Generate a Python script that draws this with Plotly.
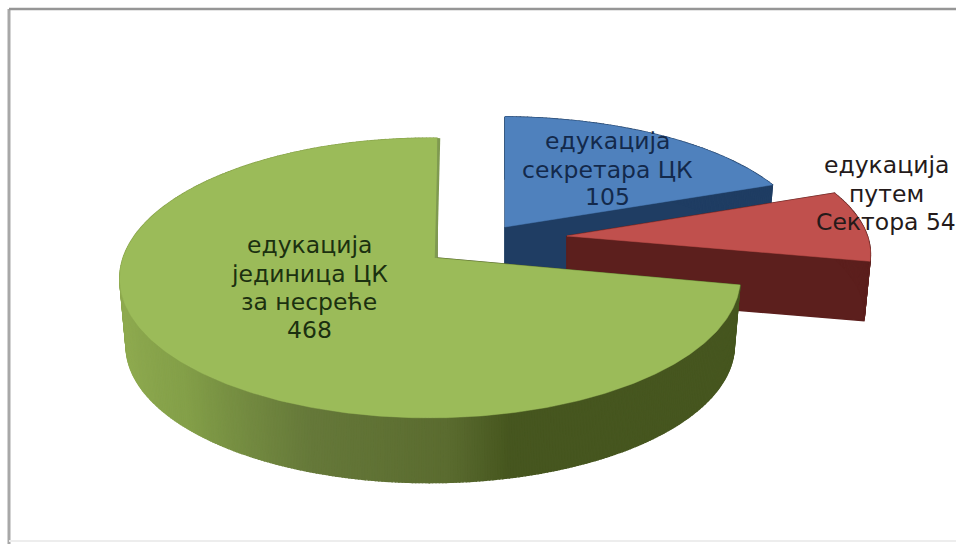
import numpy as np
import plotly.graph_objects as go

# ---- data ----
categories = ["едукација<br>секретара ЦК", "едукација<br>путем<br>Сектора", "едукација<br>јединица ЦК<br>за несреће"]
values = [105, 54, 468]

# ---- drawing style / 3D camera ----
W, H = 956, 544
TOP = ["#4F81BD", "#C0504D", "#9BBB59"]
FACE = ["#1F3D63", "#5C1F1D", "#4A5A22"]
WALL_STOPS = [
    [(0, "#1F3D63"), (360, "#1F3D63")],
    [(0, "#5C1F1D"), (360, "#5C1F1D")],
    [(90, "#46561F"), (166, "#47571F"), (178, "#5B6C30"), (205, "#66793A"), (235, "#84A049"), (262, "#8FAB50"), (290, "#86A04A"), (360, "#86A04A")],
]
APEX = [(505, 227), (567, 236), (437, 258)]
B = [126, 128, 137]
DROP = [60, 60, 68]
A, K, M, SHRINK, WARP = 307.0, 1 / 7, 0.022, 0.98, 0.175
TEXT_COL = ["#13294B", "#241A1A", "#1B3010"]
TEXT_X = [607, 886, 309]
TEXT_Y = [[141, 170, 197], [165, 194, 222], [245, 274, 302, 330]]


def offs(deg, i):
    t = np.radians(deg)
    t = t + WARP * np.sin(t)
    u, v = np.sin(t), -np.cos(t)
    d = 1 - K * v + M * u
    return A * u / d, B[i] * v / d


def hex_rgb(h):
    return np.array([int(h[j:j + 2], 16) for j in (1, 3, 5)], dtype=float)


def wall_col(i, deg):
    st = WALL_STOPS[i]
    xs = [s[0] for s in st]
    cs = np.array([hex_rgb(s[1]) for s in st])
    c = [np.interp(deg, xs, cs[:, j]) for j in range(3)]
    return "rgb(%d,%d,%d)" % tuple(c)


def poly(xs, ys, color):
    return go.Scatter(x=list(xs), y=list(ys), mode="lines", fill="toself", fillcolor=color,
                      line=dict(color=color, width=1.4), hoverinfo="skip", showlegend=False)


fig = go.Figure()
total = sum(values)
start = 0.0
for i, val in enumerate(values):
    end = start + 360 * val / total
    ax, ay = APEX[i]
    degs = np.linspace(start, end, max(12, int((end - start) * 1.5)))
    ox, oy = offs(degs, i)
    tx, ty = ax + ox, ay + oy
    bx, by = ax + SHRINK * ox, ay + DROP[i] + SHRINK * oy
    # cut faces at both ends of the slice
    fig.add_trace(poly([ax, tx[0], bx[0], ax, ax], [ay, ty[0], by[0], ay + DROP[i], ay], FACE[i]))
    fig.add_trace(poly([ax, tx[-1], bx[-1], ax, ax], [ay, ty[-1], by[-1], ay + DROP[i], ay], FACE[i]))
    # outer wall, back to front
    order = np.argsort(by[:-1])
    for j in order:
        fig.add_trace(poly([tx[j], tx[j + 1], bx[j + 1], bx[j], tx[j]],
                           [ty[j], ty[j + 1], by[j + 1], by[j], ty[j]],
                           wall_col(i, (degs[j] + degs[j + 1]) / 2)))
    # top surface
    fig.add_trace(go.Scatter(x=[ax, *tx, ax], y=[ay, *ty, ay], mode="lines", fill="toself", fillcolor=TOP[i],
                             line=dict(color=TOP[i], width=0.5), hoverinfo="skip", showlegend=False))
    start = end

# thin shaded edge on the green slice's straight back edge
gx, gy = offs(np.array([360.0]), 2)
fig.add_trace(go.Scatter(x=[APEX[2][0] - 1, APEX[2][0] + gx[0] + 2], y=[APEX[2][1], APEX[2][1] + gy[0]],
                         mode="lines", line=dict(color="#7F9A50", width=2.5), hoverinfo="skip", showlegend=False))

labels = [f"{categories[0]}<br>{values[0]}", f"{categories[1]} {values[1]}", f"{categories[2]}<br>{values[2]}"]
for i, lab in enumerate(labels):
    for line, y in zip(lab.split("<br>"), TEXT_Y[i]):
        fig.add_annotation(x=TEXT_X[i], y=y, xref="x", yref="y", text=line, showarrow=False,
                           align="center", font=dict(family="DejaVu Sans", size=23.5, color=TEXT_COL[i]))

shapes = [
    dict(type="line", xref="x", yref="y", x0=9, x1=9, y0=9, y1=544, line=dict(color="#A8A8A8", width=3)),
    dict(type="line", xref="x", yref="y", x0=9, x1=956, y0=9, y1=9, line=dict(color="#969696", width=2.5)),
    dict(type="line", xref="x", yref="y", x0=9, x1=956, y0=541, y1=541, line=dict(color="#EDEDED", width=2)),
]
fig.update_layout(
    width=W, height=H, margin=dict(l=0, r=0, t=0, b=0), autosize=False,
    paper_bgcolor="white", plot_bgcolor="white", shapes=shapes, showlegend=False,
    xaxis=dict(range=[0, W], visible=False, fixedrange=True),
    yaxis=dict(range=[H, 0], visible=False, fixedrange=True),
)
fig.write_html("out.html", config={"displayModeBar": False},
               post_script="document.documentElement.style.overflow='hidden';document.body.style.margin='0';")
